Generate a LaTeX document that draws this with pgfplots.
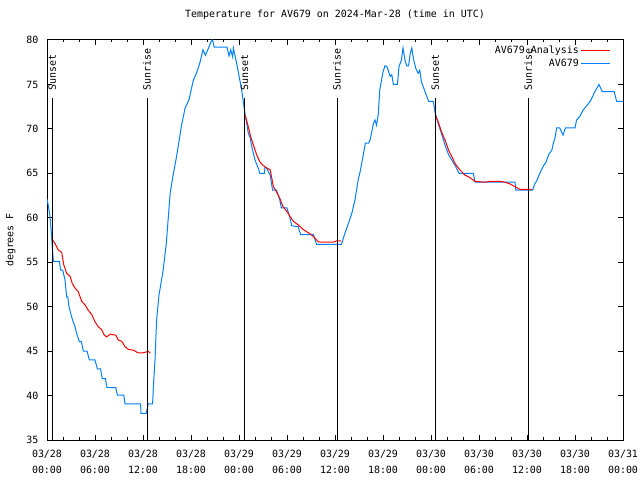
\documentclass[border=0pt]{standalone}
\usepackage{fontspec}
\setmainfont{DejaVu Sans Mono}
\usepackage{pgfplots}
\pgfplotsset{compat=1.18}
\definecolor{obsblue}{RGB}{0,128,255}
\definecolor{anared}{RGB}{255,0,0}
\begin{document}
\fontsize{10}{12}\selectfont
\begin{tikzpicture}
\useasboundingbox (0bp,0bp) rectangle (640bp,480bp);
\begin{axis}[
  at={(47bp,40bp)}, anchor=south west,
  scale only axis, width=576bp, height=400bp,
  xmin=0, xmax=72, ymin=35, ymax=80,
  xtick={0,6,...,72},
  minor x tick num=2,
  ytick={35,40,...,80},
  xticklabels={{03/28\\[4bp]00:00},{03/28\\[4bp]06:00},{03/28\\[4bp]12:00},{03/28\\[4bp]18:00},
               {03/29\\[4bp]00:00},{03/29\\[4bp]06:00},{03/29\\[4bp]12:00},{03/29\\[4bp]18:00},
               {03/30\\[4bp]00:00},{03/30\\[4bp]06:00},{03/30\\[4bp]12:00},{03/30\\[4bp]18:00},
               {03/31\\[4bp]00:00}},
  xticklabel style={align=center, yshift=-7bp},
  yticklabel style={xshift=-5bp},
  /pgf/number format/assume math mode=true,
  major tick length=5bp, minor tick length=2.5bp,
  tick style={black, line width=1bp},
  axis line style={line width=1bp},
  title={Temperature for AV679 on 2024-Mar-28 (time in UTC)},
  title style={at={(axis description cs:0.5,1)}, anchor=base, yshift=17bp, inner sep=0pt},
  ylabel={degrees F},
  ylabel style={at={(axis description cs:-0.063,0.5)}, anchor=center, inner sep=0pt},
  legend style={at={(axis description cs:1,1)}, anchor=north east, xshift=-11bp, yshift=-3bp,
    draw=none, fill=none, inner sep=1bp, row sep=0bp, font=\fontsize{10}{12}\selectfont},
  legend cell align=right,
  legend plot pos=right,
  reverse legend,
  legend image code/.code={\draw[#1] (0bp,0bp) -- (29bp,0bp);},
  clip=true,
]
% observations
\addplot[obsblue, line width=1bp] coordinates {
(0,62.1) (0.16,61.4) (0.38,60.1) (0.5,58.8) (0.59,57.7) (0.66,56.7) (0.8,55.1) (1.55,55.1)
(1.7,54.1) (1.96,54.1) (2.1,53.6) (2.25,53.0) (2.46,51.1) (2.6,51.1) (2.75,50.0) (3.0,49.1)
(3.2,48.5) (3.5,47.75) (3.7,47.0) (4.04,46.06) (4.3,46.06) (4.54,45.0) (5.0,45.0) (5.3,44.0)
(6.0,44.0) (6.3,43.0) (6.7,43.0) (6.9,41.9) (7.3,41.9) (7.5,40.9) (8.6,40.9) (8.8,40.06)
(9.6,40.06) (9.75,39.05) (11.7,39.05) (11.75,38.0) (12.4,38.0) (12.55,38.6) (12.65,39.05)
(13.2,39.05) (13.3,41.0) (13.5,44.0) (13.7,48.5) (14.0,51.3) (14.5,54.0) (14.9,57.0) (15.04,58.6)
(15.4,62.8) (15.8,65.0) (16.2,66.9) (16.8,70.3) (17.25,72.3) (17.75,73.3) (18.3,75.5) (18.7,76.3)
(19.1,77.4) (19.5,78.9) (19.8,78.3) (20.1,78.9) (20.5,79.8) (20.7,80.0) (20.9,79.2) (22.5,79.2)
(22.75,78.2) (22.96,78.9) (23.2,78.1) (23.3,79.1) (23.7,77.4) (24.1,75.5) (24.3,74.6) (24.5,73.3)
(24.75,71.7) (24.96,70.7) (25.16,69.5) (25.4,69.0) (25.6,68.0) (26.0,66.5) (26.4,65.6) (26.6,65.0)
(27.16,65.0) (27.25,65.7) (27.46,65.6) (27.9,64.8) (28.2,63.1) (28.7,63.1) (29.1,62.0) (29.3,61.1)
(30.0,61.1) (30.4,59.9) (30.6,59.1) (31.4,59.0) (31.7,58.1) (33.3,58.1) (33.7,57.0) (36.8,57.0)
(37.25,58.3) (37.7,59.4) (38.1,60.5) (38.5,62.0) (38.9,64.3) (39.1,65.0) (39.5,66.9) (39.8,68.4)
(40.2,68.4) (40.4,68.8) (40.8,70.6) (41.0,71.0) (41.2,70.4) (41.4,71.6) (41.6,74.4) (42.0,76.4)
(42.25,77.1) (42.5,77.0) (42.9,75.9) (43.1,76.1) (43.3,75.0) (43.8,75.0) (44.0,77.0) (44.3,77.75)
(44.5,79.1) (44.75,77.75) (44.96,77.1) (45.2,77.1) (45.4,78.5) (45.6,79.1) (45.8,77.9) (46.1,76.8)
(46.4,76.25) (46.6,76.6) (46.8,75.3) (47.25,74.2) (47.7,73.1) (48.3,73.1) (48.5,71.9) (48.9,70.6)
(49.3,69.5) (49.75,68.2) (50.2,67.1) (50.6,66.5) (51.0,65.9) (51.5,65.0) (53.3,65.0) (53.5,64.0)
(58.5,64.0) (58.6,63.1) (60.7,63.1) (61.0,63.9) (61.2,64.1) (61.6,65.0) (62.0,65.75) (62.4,66.3)
(62.7,67.1) (63.1,67.6) (63.3,68.4) (63.5,69.0) (63.7,70.1) (64.1,70.1) (64.5,69.3) (64.8,70.1)
(66.0,70.1) (66.2,71.0) (66.6,71.4) (67.0,72.1) (67.9,73.1) (68.5,74.2) (69.0,75.0) (69.4,74.2)
(70.9,74.2) (71.2,73.1) (72,73.1)
};
\addlegendentry{AV679}
% analysis
\addplot[anared, line width=1bp] coordinates {
(0.59,57.7) (1.0,57.1) (1.4,56.4) (1.84,56.1) (2.1,54.7) (2.46,53.75) (2.9,53.4) (3.16,52.6)
(3.5,52.1) (3.9,51.7) (4.34,50.6) (4.75,50.2) (5.16,49.6) (5.6,49.1) (6.0,48.3) (6.4,47.75)
(6.84,47.4) (7.16,46.8) (7.46,46.6) (7.9,46.9) (8.6,46.8) (8.9,46.25) (9.34,46.1) (9.75,45.5)
(10.16,45.2) (10.8,45.1) (11.4,44.8) (11.96,44.8) (12.4,44.9) (12.66,45.0) (12.9,44.75)
};
\addlegendentry{AV679 Analysis}
\addplot[anared, line width=1bp, forget plot] coordinates {
(24.75,71.6) (25.16,70.25) (25.46,69.1) (25.8,68.2) (26.2,67.1) (26.6,66.3) (27.0,65.9) (27.46,65.6)
(27.9,65.4) (28.3,63.5) (28.7,62.9) (29.1,62.2) (29.5,61.25) (30.0,60.7) (30.4,60.1) (30.8,59.6)
(31.4,59.2) (32.0,58.7) (32.7,58.3) (33.3,57.9) (33.9,57.3) (34.5,57.25) (35.8,57.25) (36.2,57.4)
(36.75,57.4)
};
\addplot[anared, line width=1bp, forget plot] coordinates {
(48.5,71.6) (48.9,70.8) (49.3,69.7) (49.75,68.75) (50.2,67.6) (50.6,66.9) (51.0,66.1) (51.6,65.4)
(52.25,64.8) (52.9,64.5) (53.5,64.1) (54.75,64.0) (55.4,64.1) (56.6,64.1) (57.25,64.0) (57.9,63.8)
(58.5,63.5) (59.1,63.2) (60.6,63.2)
};
% sunrise / sunset markers
\addplot[black, line width=1bp, forget plot] coordinates {(0.67,35) (0.67,73.5)};
\addplot[black, line width=1bp, forget plot] coordinates {(12.5,35) (12.5,73.5)};
\addplot[black, line width=1bp, forget plot] coordinates {(24.7,35) (24.7,73.5)};
\addplot[black, line width=1bp, forget plot] coordinates {(36.25,35) (36.25,73.5)};
\addplot[black, line width=1bp, forget plot] coordinates {(48.54,35) (48.54,73.5)};
\addplot[black, line width=1bp, forget plot] coordinates {(60.15,35) (60.15,73.5)};
\node[rotate=90, anchor=west, inner sep=0pt] at (axis cs:0.67,74.3) {Sunset};
\node[rotate=90, anchor=west, inner sep=0pt] at (axis cs:12.5,74.3) {Sunrise};
\node[rotate=90, anchor=west, inner sep=0pt] at (axis cs:24.7,74.3) {Sunset};
\node[rotate=90, anchor=west, inner sep=0pt] at (axis cs:36.25,74.3) {Sunrise};
\node[rotate=90, anchor=west, inner sep=0pt] at (axis cs:48.54,74.3) {Sunset};
\node[rotate=90, anchor=west, inner sep=0pt] at (axis cs:60.15,74.3) {Sunrise};
\end{axis}
\end{tikzpicture}
\end{document}
